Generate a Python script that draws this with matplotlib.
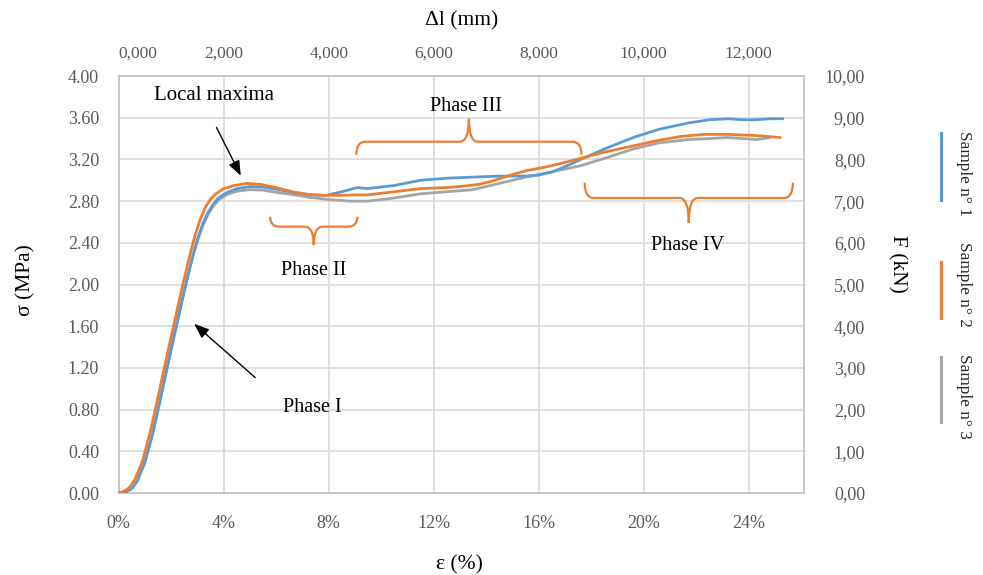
import matplotlib.pyplot as plt
from matplotlib.lines import Line2D
from matplotlib.path import Path
from matplotlib.patches import PathPatch

plt.rcParams['font.family'] = ['Liberation Serif', 'DejaVu Serif']

# Strain (%) and stress (MPa) for the three samples
strain_1 = [0, 0.3, 0.5, 0.7, 1.0, 1.3, 1.6, 1.9, 2.2, 2.5, 2.8, 3.0, 3.2, 3.4, 3.6, 3.8, 4.1,
            4.5, 5.0, 5.5, 6.1, 6.7, 7.3, 7.9, 8.5, 9.1, 9.5, 10.5, 11.5, 12.5, 13.5, 14.5,
            15.5, 16.0, 16.5, 17.0, 17.6, 18.5, 19.6, 20.6, 21.7, 22.5, 23.2, 23.8, 24.2,
            24.8, 25.3]
stress_1 = [0, 0.015, 0.04, 0.11, 0.29, 0.57, 0.91, 1.26, 1.60, 1.94, 2.25, 2.43, 2.58, 2.69,
            2.77, 2.83, 2.88, 2.92, 2.94, 2.935, 2.91, 2.88, 2.86, 2.855, 2.89, 2.93, 2.92,
            2.95, 3.00, 3.02, 3.03, 3.04, 3.04, 3.05, 3.08, 3.13, 3.20, 3.30, 3.41, 3.49, 3.55,
            3.58, 3.59, 3.58, 3.58, 3.59, 3.59]

strain_2 = [0, 0.2, 0.4, 0.6, 0.9, 1.2, 1.5, 1.8, 2.1, 2.4, 2.7, 2.9, 3.1, 3.3, 3.5, 3.7, 4.0,
            4.4, 4.9, 5.4, 6.0, 6.6, 7.2, 7.8, 8.4, 9.0, 9.5, 10.5, 11.5, 12.5, 13.2, 13.7,
            14.2, 14.8, 15.5, 16.5, 17.6, 18.5, 19.6, 20.5, 21.4, 22.3, 23.2, 24.2, 25.2]
stress_2 = [0, 0.015, 0.05, 0.12, 0.30, 0.58, 0.92, 1.27, 1.61, 1.95, 2.27, 2.46, 2.62, 2.74,
            2.82, 2.87, 2.92, 2.95, 2.97, 2.96, 2.93, 2.89, 2.865, 2.855, 2.855, 2.86, 2.86,
            2.89, 2.92, 2.93, 2.945, 2.96, 2.99, 3.04, 3.09, 3.14, 3.21, 3.27, 3.33, 3.38,
            3.42, 3.44, 3.44, 3.43, 3.41]

strain_3 = [0, 0.3, 0.5, 0.7, 1.0, 1.3, 1.6, 1.9, 2.2, 2.5, 2.8, 3.0, 3.2, 3.4, 3.6, 3.8, 4.1,
            4.5, 5.0, 5.5, 6.1, 6.7, 7.3, 8.0, 8.8, 9.5, 10.5, 11.5, 12.5, 13.5, 14.0, 14.5,
            15.5, 16.5, 17.6, 18.5, 19.6, 20.6, 21.7, 22.5, 23.2, 23.8, 24.3, 24.8]
stress_3 = [0, 0.015, 0.045, 0.115, 0.30, 0.58, 0.92, 1.27, 1.61, 1.94, 2.25, 2.42, 2.56,
            2.67, 2.75, 2.81, 2.86, 2.895, 2.91, 2.905, 2.88, 2.86, 2.835, 2.815, 2.80, 2.80,
            2.83, 2.87, 2.89, 2.91, 2.94, 2.97, 3.03, 3.08, 3.14, 3.21, 3.30, 3.36, 3.39,
            3.40, 3.41, 3.40, 3.39, 3.41]

labels = ['Sample n° 1', 'Sample n° 2', 'Sample n° 3']
colors = ['#5B9BD5', '#ED7D31', '#A5A5A5']

stress_ticks = [0.4 * i for i in range(11)]
strain_ticks = [0, 4, 8, 12, 16, 20, 24]
force_ticks = list(range(11))
elong_ticks = [0, 2000, 4000, 6000, 8000, 10000, 12000]

tick_color = '#595959'
grid_color = '#D9D9D9'

fig = plt.figure(figsize=(9.83, 5.75), dpi=100)
ax = fig.add_axes([0.1207, 0.1426, 0.6971, 0.7252])

# draw series 3 first, then 1, then 2 on top
order = [2, 0, 1]
data = [(strain_1, stress_1), (strain_2, stress_2), (strain_3, stress_3)]
for i in order:
    x, y = data[i]
    ax.plot(x, y, color=colors[i], lw=2.0, solid_joinstyle='round', solid_capstyle='round', zorder=3)

ax.set_xlim(0, 26.1)
ax.set_ylim(0, 4.0)
ax.set_xticks(strain_ticks)
ax.set_xticklabels([f'{v}%' for v in strain_ticks])
ax.set_yticks(stress_ticks)
ax.set_yticklabels([f'{v:.2f}' for v in stress_ticks])
ax.grid(True, color=grid_color, lw=1.2)
ax.set_axisbelow(True)
ax.tick_params(length=0, labelsize=13, labelcolor=tick_color)
ax.tick_params(axis='y', pad=14)
ax.tick_params(axis='x', pad=16)
for s in ax.spines.values():
    s.set_color('#BFBFBF')
    s.set_linewidth(1.2)

ax.set_xlabel('ε (%)', fontsize=15.5)
ax.xaxis.set_label_coords(0.498, -0.15)
ax.set_ylabel('σ (MPa)', fontsize=15.5)
ax.yaxis.set_label_coords(-0.122, 0.51)

# secondary force axis
axr = ax.twinx()
axr.set_ylim(0, 10)
axr.set_yticks(force_ticks)
axr.set_yticklabels([f'{v:.2f}'.replace('.', ',') for v in force_ticks], ha='right')
axr.tick_params(length=0, labelsize=13, labelcolor=tick_color, pad=44)
axr.set_ylabel('F (kN)', fontsize=15.5, rotation=270)
axr.yaxis.set_label_coords(1.15, 0.55)
for s in axr.spines.values():
    s.set_visible(False)

# secondary elongation axis
axt = ax.twiny()
axt.set_xlim(0, 13050)
axt.set_xticks(elong_ticks)
axt.set_xticklabels([f'{v / 1000:.3f}'.replace('.', ',') for v in elong_ticks])
axt.get_xticklabels()[0].set_ha('left')
axt.tick_params(length=0, labelsize=12.5, labelcolor=tick_color, pad=10)
axt.set_xlabel('Δl (mm)', fontsize=15.5)
axt.xaxis.set_label_coords(0.5, 1.122)
for s in axt.spines.values():
    s.set_visible(False)


def brace(x0, x1, y_end, y_mid, y_tip):
    # curly brace between x0 and x1, ends at y_end, tip at y_tip
    xm = (x0 + x1) / 2
    r = 0.35
    verts = [(x0, y_end), (x0, y_mid), (x0 + r, y_mid),
             (xm - r, y_mid), (xm, y_mid), (xm, y_tip),
             (xm, y_tip), (xm, y_mid), (xm + r, y_mid),
             (x1 - r, y_mid), (x1, y_mid), (x1, y_end)]
    codes = [Path.MOVETO, Path.CURVE3, Path.CURVE3,
             Path.LINETO, Path.CURVE3, Path.CURVE3,
             Path.MOVETO, Path.CURVE3, Path.CURVE3,
             Path.LINETO, Path.CURVE3, Path.CURVE3]
    ax.add_patch(PathPatch(Path(verts, codes), fill=False, edgecolor='#ED7D31', lw=1.6, zorder=4))


brace(5.77, 9.09, 2.65, 2.555, 2.38)
brace(9.05, 17.63, 3.244, 3.37, 3.59)
brace(17.75, 25.68, 2.976, 2.83, 2.59)

text_kw = dict(fontsize=14.5, ha='center', va='center', zorder=5)
ax.text(3.64, 3.81, 'Local maxima', **dict(text_kw, fontsize=15))
ax.text(7.38, 0.82, 'Phase I', **text_kw)
ax.text(7.41, 2.13, 'Phase II', **text_kw)
ax.text(13.21, 3.71, 'Phase III', **text_kw)
ax.text(21.68, 2.37, 'Phase IV', **text_kw)

arrow_kw = dict(arrowstyle='-|>,head_length=0.9,head_width=0.35', color='black', lw=1.0)
ax.annotate('', xy=(4.70, 3.02), xytext=(3.68, 3.53), arrowprops=arrow_kw, zorder=5)
ax.annotate('', xy=(2.80, 1.64), xytext=(5.28, 1.09), arrowprops=arrow_kw, zorder=5)

# vertical legend on the right
W, H = 983, 575
legend_items = [(133, 200, 132, 215), (262, 318, 237, 332), (357, 422, 352, 440)]
for (l0, l1, t0, t1), lab, col in zip(legend_items, labels, colors):
    fig.add_artist(Line2D([941 / W, 941 / W], [1 - l0 / H, 1 - l1 / H], color=col, lw=2.2))
    fig.text(964 / W, 1 - (t0 + t1) / 2 / H, lab, rotation=270, ha='center', va='center',
             fontsize=12.4, color='#262626')

fig.savefig('out.png', dpi=100)
